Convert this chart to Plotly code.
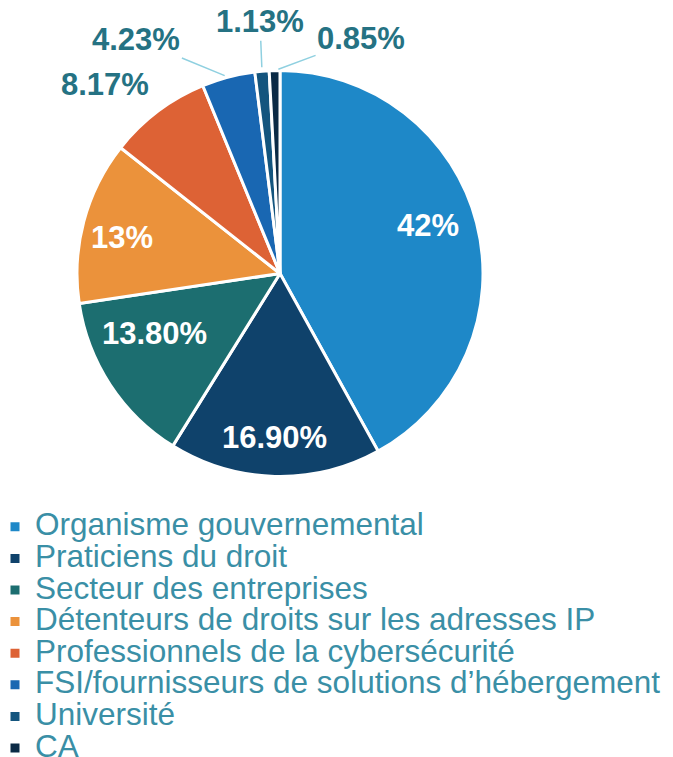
import math
import plotly.graph_objects as go

categories = [
    "Organisme gouvernemental",
    "Praticiens du droit",
    "Secteur des entreprises",
    "Détenteurs de droits sur les adresses IP",
    "Professionnels de la cybersécurité",
    "FSI/fournisseurs de solutions d’hébergement",
    "Université",
    "CA",
]
values = [42, 16.90, 13.80, 13, 8.17, 4.23, 1.13, 0.85]
pct_labels = ["42%", "16.90%", "13.80%", "13%", "8.17%", "4.23%", "1.13%", "0.85%"]
colors = ["#1E88C8", "#0F426B", "#1C6E70", "#EB923B", "#DD6235", "#1967B2", "#14557E", "#0B2A45"]
inside = [True, True, True, True, False, False, False, False]

W, H = 673, 757
OUT_TEXT = "#257283"
LEG_TEXT = "#3A8FA6"
LINE_COL = "#8FD0E0"
FONT = "Liberation Sans, Arial"

# pie domain (pixels within the figure)
dom_l, dom_r, dom_t, dom_b = 69, 475, 62, 469
domain_x = [dom_l / W, dom_r / W]
domain_y = [1 - dom_b / H, 1 - dom_t / H]

legend_labels = [f'<span style="font-size:31.5px">{c}</span>' for c in categories]

fig = go.Figure(go.Pie(
    labels=legend_labels,
    values=values,
    textinfo="none",
    sort=False,
    direction="clockwise",
    rotation=0,
    marker=dict(colors=colors, line=dict(color="white", width=3)),
    domain=dict(x=domain_x, y=domain_y),
    hoverinfo="skip",
))

# slice labels: inside ones on the mid-angle ray, outside ones linked to the slice edge
r_px = min(dom_r - dom_l, dom_b - dom_t) / 2
cx_px = (dom_l + dom_r) / 2
cy_px = (dom_t + dom_b) / 2
total = sum(values)
INSIDE_R = 0.77
# pixel offsets of each label from its anchor point (dx, dy), and whether a leader line is drawn
label_offsets = [
    (-3, -9, False),
    (-1.5, 8, False),
    (5.5, -26, False),
    (-6.5, 4, False),
    (-53, -26.5, False),
    (-92, -38, True),
    (-2, -49.5, True),
    (86.5, -32, True),
]
cum = 0.0
for i, v in enumerate(values):
    mid = (cum + v / 2) / total
    cum += v
    ang = 2 * math.pi * mid
    rr = r_px * (INSIDE_R if inside[i] else 1.0)
    ex = cx_px + rr * math.sin(ang)
    ey = cy_px - rr * math.cos(ang)
    dx, dy, arrow = label_offsets[i]
    ann = dict(
        x=ex / W, y=1 - ey / H, xref="paper", yref="paper",
        text=pct_labels[i],
        font=dict(family=FONT, size=31, weight="bold",
                  color="white" if inside[i] else OUT_TEXT),
    )
    if arrow:
        ann.update(showarrow=True, ax=dx, ay=dy, arrowhead=0, arrowwidth=1.5,
                   arrowcolor=LINE_COL, standoff=4)
    else:
        ann.update(showarrow=False, xanchor="center", yanchor="middle",
                   xshift=dx, yshift=-dy)
    fig.add_annotation(**ann)

fig.update_layout(
    width=W, height=H,
    margin=dict(l=0, r=0, t=0, b=0, autoexpand=False),
    paper_bgcolor="white",
    plot_bgcolor="white",
    showlegend=True,
    legend=dict(
        x=-13 / W, xanchor="left",
        y=1 - 498 / H, yanchor="top",
        font=dict(family=FONT, size=22, color=LEG_TEXT),
        bgcolor="rgba(0,0,0,0)",
        borderwidth=0,
        traceorder="normal",
    ),
)

fig.write_html("out.html")
